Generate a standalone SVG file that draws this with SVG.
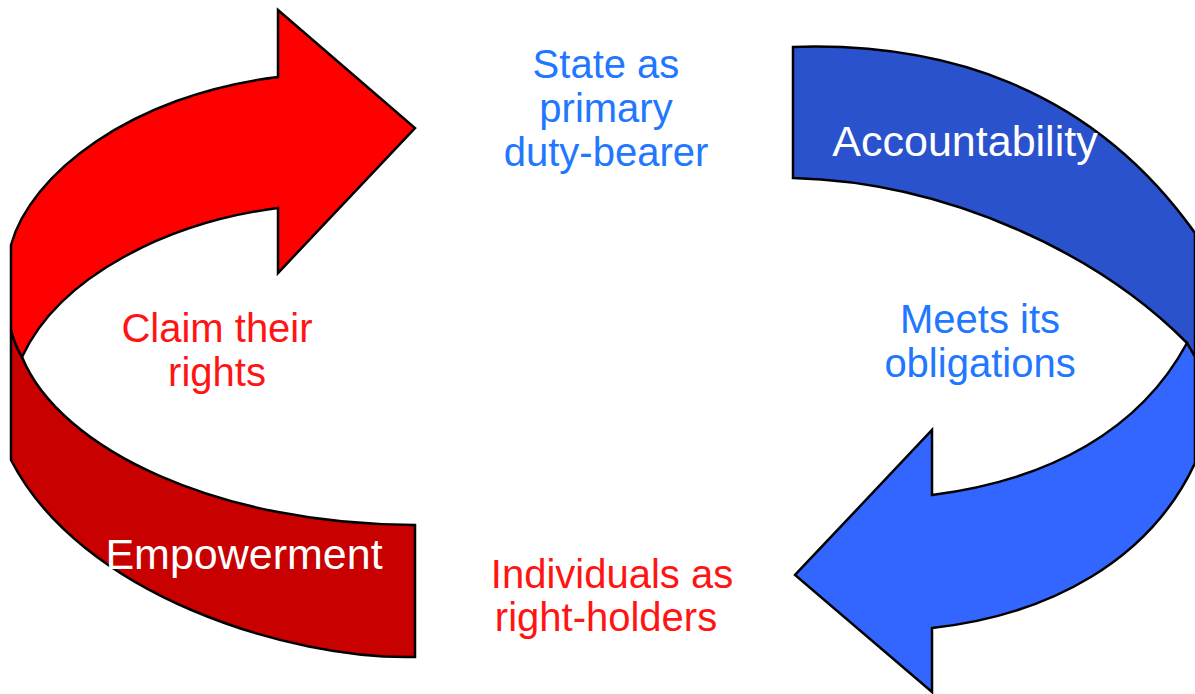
<svg xmlns="http://www.w3.org/2000/svg" width="1195" height="694" viewBox="0 0 1195 694">
<style>
.shape{stroke:#000;stroke-width:2.5;stroke-linejoin:miter}
.lbl{font-family:"Liberation Sans",Arial,sans-serif;text-anchor:middle}
.blue{fill:#2277ff;font-size:40px}
.red{fill:#ff1414;font-size:40px}
.white{fill:#ffffff;font-size:43px}
</style>
<rect width="1195" height="694" fill="#ffffff"/>
<g id="connectors">
<g id="red-arrow">
<path class="shape" fill="#c80000" d="M415,525 L415,657 C290,660 80,595 11,460 L11,330 Q15,345 22,357 C60,450 220,525 415,525 Z"/>
<path class="shape" fill="#ff0000" d="M278,77 L278,10 L415,128 L278,273 L278,208 C170,222 60,275 22,357 Q15,345 11,330 L11,245 C30,175 130,95 278,77 Z"/>
</g>
<g id="blue-arrow">
<path class="shape" fill="#2a52cc" d="M793,47 L793,178 C950,182 1100,255 1187,343 Q1191,350 1195,357 L1195,233 C1090,85 940,42 793,47 Z"/>
<path class="shape" fill="#3366ff" d="M1187,343 Q1191,350 1195,357 L1195,463 C1150,560 1050,615 932,628 L932,692 L795,575 L932,430 L932,495 C1050,480 1140,430 1187,343 Z"/>
</g>
</g>
<g id="empowerment"><text class="lbl white" x="244" y="569">Empowerment</text></g>
<g id="accountability"><text class="lbl white" x="965" y="156">Accountability</text></g>
<g id="state"><text class="lbl blue" x="606" y="78">State as</text><text class="lbl blue" x="606" y="122">primary</text><text class="lbl blue" x="606" y="166">duty-bearer</text></g>
<g id="meets"><text class="lbl blue" x="980" y="333">Meets its</text><text class="lbl blue" x="980" y="377">obligations</text></g>
<g id="individuals"><text class="lbl red" x="612" y="588">Individuals as</text><text class="lbl red" x="606" y="631">right-holders</text></g>
<g id="claim"><text class="lbl red" x="217" y="342">Claim their</text><text class="lbl red" x="217" y="386">rights</text></g>
</svg>
